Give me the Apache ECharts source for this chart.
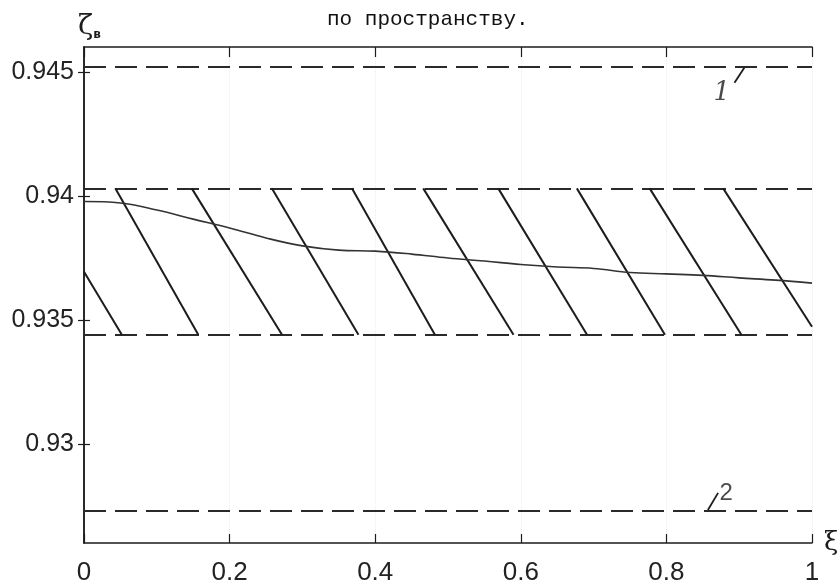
<!DOCTYPE html>
<html>
<head>
<meta charset="utf-8">
<script src="https://cdn.jsdelivr.net/npm/echarts@6/dist/echarts.min.js"></script>
<style>
html, body { margin: 0; padding: 0; background: #fff; }
#chart { width: 840px; height: 587px; }
</style>
</head>
<body>
<div id="chart"></div>
<script>
// кривая ζв(ξ)
var xiValues = [0, 0.05, 0.1, 0.15, 0.2, 0.25, 0.3, 0.35, 0.4, 0.45, 0.5,
  0.55, 0.6, 0.65, 0.7, 0.75, 0.8, 0.85, 0.9, 0.95, 1]
var zetaValues = [0.93977, 0.93971, 0.93943, 0.93906, 0.9387, 0.9383, 0.93798, 0.93781, 0.93777, 0.93765, 0.93749,
  0.93737, 0.93723, 0.93713, 0.93707, 0.93691, 0.93685, 0.93679, 0.93669, 0.9366, 0.93648]

// штриховые уровни: 1, верх полосы, низ полосы, 2
var dashLevels = [0.9452, 0.9403, 0.9344, 0.9273]

// штриховка полосы (начало и конец каждого отрезка)
var hatchX1 = [0, 0.043, 0.148, 0.258, 0.368, 0.466, 0.569, 0.677, 0.777, 0.878]
var hatchY1 = [0.93694, 0.9403, 0.9403, 0.9403, 0.9403, 0.9403, 0.9403, 0.9403, 0.9403, 0.9403]
var hatchX2 = [0.052, 0.157, 0.272, 0.377, 0.482, 0.590, 0.691, 0.798, 0.903, 1]
var hatchY2 = [0.9344, 0.9344, 0.9344, 0.9344, 0.9344, 0.9344, 0.9344, 0.9344, 0.9344, 0.93472]

// подписи кривых и выноски
var markNames = ['1', '2']
var markX = [0.876, 0.882]
var markY = [0.94415, 0.92802]
var leaderX1 = [0.8935, 0.857]
var leaderY1 = [0.94456, 0.92733]
var leaderX2 = [0.907, 0.871]
var leaderY2 = [0.94516, 0.92802]

var yTicks = [0.93, 0.935, 0.94, 0.945]
var xTickLabels = ['0', '0.2', '0.4', '0.6', '0.8', '1']

var labelFont = "'Liberation Sans', Arial, sans-serif"
var ink = '#1c1c1c'

var curveData = xiValues.map(function (x, i) { return [x, zetaValues[i]] })
var dashData = dashLevels.map(function (v) { return { coords: [[0, v], [1, v]] } })
var hatchData = hatchX1.map(function (x, i) {
  return { coords: [[x, hatchY1[i]], [hatchX2[i], hatchY2[i]]] }
})
var leaderData = leaderX1.map(function (x, i) {
  return { coords: [[x, leaderY1[i]], [leaderX2[i], leaderY2[i]]] }
})
// "1" рукописная курсивная, "2" прямая
var markStyles = [
  { fontFamily: "'DejaVu Serif', serif", fontSize: 26, fontStyle: 'italic' },
  { fontFamily: labelFont, fontSize: 24, fontStyle: 'normal' }
]
var markData = markNames.map(function (n, i) {
  return { name: n, value: [markX[i], markY[i]], label: markStyles[i] }
})

var myChart = echarts.init(document.getElementById('chart'))
var option = {
  backgroundColor: '#fff',
  animation: false,
  title: {
    text: 'по пространству.',
    left: 322,
    top: 4,
    textStyle: { fontFamily: "'Liberation Mono', monospace", fontSize: 21, fontWeight: 'normal', color: '#111' }
  },
  grid: { left: 84, right: 28, top: 47, bottom: 44, show: false, containLabel: false, outerBoundsMode: 'none' },
  xAxis: [
    {
      type: 'value', min: 0, max: 1, interval: 0.2, position: 'bottom',
      name: 'ξ', nameLocation: 'end', nameGap: 12,
      nameTextStyle: { fontFamily: "'DejaVu Serif', serif", fontSize: 26, color: ink, verticalAlign: 'middle', padding: [0, 0, 14, 0] },
      axisLine: { show: true, lineStyle: { color: ink, width: 1.5 } },
      axisTick: { show: true, inside: true, length: 9, lineStyle: { color: ink, width: 1.2 } },
      axisLabel: {
        margin: 17, fontFamily: labelFont, fontSize: 26, color: '#222',
        formatter: function (v) { return xTickLabels[Math.round(v / 0.2)] }
      },
      splitLine: { show: true, lineStyle: { color: '#ececec', type: 'dotted', width: 1 } }
    },
    {
      type: 'value', min: 0, max: 1, interval: 0.2, position: 'top',
      axisLine: { show: true, lineStyle: { color: ink, width: 1.5 } },
      axisTick: { show: true, inside: true, length: 10, lineStyle: { color: ink, width: 1.2 } },
      axisLabel: { show: false },
      splitLine: { show: false }
    }
  ],
  yAxis: [
    {
      type: 'value', min: 0.926, max: 0.946, position: 'left',
      name: '{a|ζ}{b|в}', nameLocation: 'end', nameGap: 6,
      nameTextStyle: {
        align: 'left', padding: [0, 0, 0, -6],
        rich: {
          a: { fontFamily: "'DejaVu Serif', serif", fontSize: 28, color: ink },
          b: { fontFamily: "'DejaVu Sans', sans-serif", fontSize: 12, fontWeight: 'bold', color: ink, verticalAlign: 'bottom' }
        }
      },
      axisLine: { show: true, lineStyle: { color: ink, width: 1.5 } },
      axisTick: { show: true, inside: true, length: 6, customValues: yTicks, lineStyle: { color: ink, width: 1.2 } },
      axisLabel: { margin: 10, customValues: yTicks, fontFamily: labelFont, fontSize: 25, color: '#222',
        formatter: function (v) { return String(+v.toFixed(3)) } },
      splitLine: { show: false }
    },
    {
      type: 'value', min: 0.926, max: 0.946, position: 'right',
      axisLine: { show: true, lineStyle: { color: ink, width: 1.5 } },
      axisTick: { show: true, inside: true, length: 6, customValues: yTicks, lineStyle: { color: ink, width: 1.2 } },
      axisLabel: { show: false, customValues: yTicks },
      splitLine: { show: false }
    }
  ],
  series: [
    {
      name: 'levels', type: 'lines', coordinateSystem: 'cartesian2d',
      xAxisIndex: 0, yAxisIndex: 0,
      data: dashData,
      lineStyle: { color: '#2a2a2a', width: 2, type: [22, 9], opacity: 1 },
      silent: true
    },
    {
      name: 'hatch', type: 'lines', coordinateSystem: 'cartesian2d',
      xAxisIndex: 0, yAxisIndex: 0,
      data: hatchData,
      lineStyle: { color: ink, width: 2, type: 'solid', opacity: 1 },
      silent: true
    },
    {
      name: 'leaders', type: 'lines', coordinateSystem: 'cartesian2d',
      xAxisIndex: 0, yAxisIndex: 0,
      data: leaderData,
      lineStyle: { color: ink, width: 1.8, opacity: 1 },
      silent: true
    },
    {
      name: 'zeta', type: 'line', xAxisIndex: 0, yAxisIndex: 0,
      data: curveData, smooth: 0.4, showSymbol: false,
      lineStyle: { color: '#333', width: 1.6 }
    },
    {
      name: 'marks', type: 'scatter', xAxisIndex: 0, yAxisIndex: 0,
      data: markData, symbolSize: 0,
      label: {
        show: true, position: 'inside', formatter: '{b}',
        fontFamily: "'DejaVu Serif', serif", fontSize: 26, color: ink
      }
    }
  ]
}
myChart.setOption(option)
</script>
</body>
</html>
